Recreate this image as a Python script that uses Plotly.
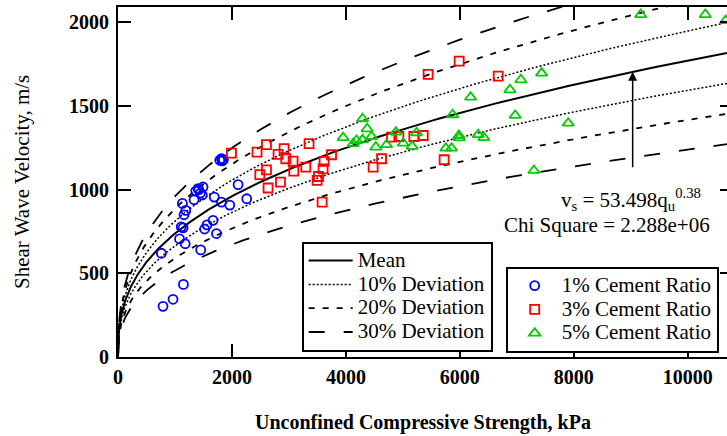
import numpy as np
import plotly.graph_objects as go

# Measured points: unconfined compressive strength qu (kPa) and shear wave velocity vs (m/s)
qu_1pct = [790, 966, 1148, 762, 1080, 1180, 1452, 1110, 1142, 1520, 1562, 1668, 1728,
           1159, 1189, 1131, 1335, 1365, 1405, 1447, 1493, 1480, 1420, 1690, 1816, 1962,
           2108, 2260, 1786, 1816, 1850, 1830]
vs_1pct = [303, 345, 434, 620, 706, 677, 640, 778, 772, 765, 790, 817, 738,
           850, 876, 918, 940, 992, 1006, 980, 1016, 968, 1000, 956, 926, 908,
           1030, 946, 1176, 1186, 1180, 1172]

qu_3pct = [1991, 2441, 2606, 2916, 2810, 2945, 3073, 3354, 2606, 2489, 2634, 2852, 3086,
           3297, 3495, 3519, 3600, 3618, 3748, 3583, 5989, 5444, 6674, 4801, 4930, 5193,
           5358, 4626, 4479, 5725]
vs_3pct = [1219, 1225, 1269, 1245, 1211, 1185, 1171, 1275, 1119, 1090, 1010, 1045, 1111,
           1135, 1056, 1079, 1125, 1169, 1209, 926, 1768, 1689, 1679, 1314, 1318, 1318,
           1324, 1185, 1135, 1179]

qu_5pct = [3952, 4127, 4187, 4292, 4373, 4450, 4292, 4526, 4714, 4877, 5006, 5164, 5241,
           5873, 5755, 5855, 5983, 5990, 6323, 6423, 6189, 6879, 7072, 7436, 6972, 7301,
           7903, 9175, 10309, 10667]
vs_5pct = [1311, 1275, 1294, 1424, 1364, 1318, 1298, 1255, 1269, 1344, 1278, 1259, 1340,
           1448, 1248, 1248, 1324, 1310, 1329, 1311, 1553, 1597, 1657, 1697, 1444, 1115,
           1398, 2047, 2047, 2011]

# Power-law fit vs = A * qu^B and the deviation bands drawn around it
fit_coef = 53.498
fit_exp = 0.38
chi_square = "2.288e+06"
deviation_levels = [10, 20, 30]
arrow_qu = 9034

x_ticks = [0, 2000, 4000, 6000, 8000, 10000]
x_tick_labels = ["0", "2000", "4000", "6000", "8000", "10000"]
y_ticks = [0, 500, 1000, 1500, 2000]
y_tick_labels = ["0", "500", "1000", "1500", "2000"]
x_max = 10690
y_max = 2092

FONT = "Liberation Serif"


def fit(q):
    return fit_coef * np.power(q, fit_exp)


def legend_label(text):
    # legend rows are sized from the smaller legend font; the label itself is larger
    return f'<span style="font-size:21px">{text}</span>'


q_curve = np.concatenate([[0.0], np.geomspace(0.5, x_max, 500)])
v_mean = fit(q_curve)

dash_styles = {10: "2px,2px", 20: "6px,8px", 30: "16px,19px"}
line_widths = {10: 1.5, 20: 1.8, 30: 1.8}

fig = go.Figure()

fig.add_trace(go.Scatter(
    x=q_curve, y=v_mean, mode="lines", name=legend_label("Mean"),
    line=dict(color="black", width=2), legend="legend", hoverinfo="skip"))

for lvl in deviation_levels:
    for sign in (1, -1):
        fig.add_trace(go.Scatter(
            x=q_curve, y=v_mean * (1 + sign * lvl / 100.0), mode="lines",
            name=legend_label(f"{lvl}% Deviation"), legendgroup=f"dev{lvl}",
            showlegend=(sign == 1), legend="legend",
            line=dict(color="black", width=line_widths[lvl], dash=dash_styles[lvl]),
            hoverinfo="skip"))

series = [
    ("1% Cement Ratio", qu_1pct, vs_1pct, "circle-open", "#0000FF", 9),
    ("3% Cement Ratio", qu_3pct, vs_3pct, "square-open", "#FF0000", 9),
    ("5% Cement Ratio", qu_5pct, vs_5pct, "triangle-up-open", "#00CC00", 10),
]
for name, xs, ys, sym, col, sz in series:
    fig.add_trace(go.Scatter(
        x=xs, y=ys, mode="markers", name=legend_label(name), legend="legend2",
        marker=dict(symbol=sym, size=sz, color=col, line=dict(color=col, width=1.8))))

# right-hand tick marks
fig.add_trace(go.Scatter(x=[None], y=[None], yaxis="y2", showlegend=False, hoverinfo="skip"))

legend_common = dict(
    font=dict(family=FONT, size=16, color="black"),
    bgcolor="white", bordercolor="black", borderwidth=2,
    xanchor="left", yanchor="top", tracegroupgap=0, itemwidth=44,
)

fig.update_layout(
    width=727, height=436,
    margin=dict(l=118, r=0, t=7, b=79),
    paper_bgcolor="white", plot_bgcolor="white",
    font=dict(family=FONT, color="black"),
    xaxis=dict(
        range=[0, x_max], tickvals=x_ticks, ticktext=x_tick_labels,
        ticks="inside", ticklen=13, tickwidth=2,
        tickcolor="black", showline=True, linewidth=2, linecolor="black",
        mirror="ticks", showgrid=False, zeroline=False,
        tickfont=dict(family=FONT, size=20, weight="bold", color="black"),
        ticklabelstandoff=1,
    ),
    yaxis=dict(
        range=[0, y_max], tickvals=y_ticks, ticktext=y_tick_labels,
        ticks="inside", ticklen=13, tickwidth=2,
        tickcolor="black", showline=True, linewidth=2, linecolor="black",
        showgrid=False, zeroline=False,
        tickfont=dict(family=FONT, size=20, weight="bold", color="black"),
        ticklabelstandoff=3,
    ),
    yaxis2=dict(
        range=[0, y_max], tickvals=y_ticks, overlaying="y", side="right",
        ticks="inside", ticklen=7, tickwidth=2, tickcolor="black",
        showticklabels=False, showline=False, showgrid=False, zeroline=False,
    ),
    legend=dict(x=0.3016, y=0.3294, **legend_common),
    legend2=dict(x=0.6366, y=0.258, **legend_common),
    showlegend=True,
)

annotations = [
    dict(text="Unconfined Compressive Strength, kPa", xref="paper", yref="paper",
         x=0.5, y=0, xanchor="center", yanchor="middle", yshift=-65, showarrow=False,
         font=dict(family=FONT, size=20, weight="bold", color="black")),
    dict(text="Shear Wave Velocity, m/s", xref="paper", yref="paper",
         x=0, y=0.5, xanchor="center", yanchor="middle", xshift=-96, textangle=-90,
         showarrow=False, font=dict(family=FONT, size=21, color="black")),
    dict(text="v<sub>s</sub> = 53.498q<sub>u</sub><sup>0.38</sup>", xref="x", yref="y",
         x=9004, y=943, xanchor="center", yanchor="middle", showarrow=False,
         font=dict(family=FONT, size=21, color="black")),
    dict(text=f"Chi Square = {chi_square}", xref="x", yref="y",
         x=8583, y=788, xanchor="center", yanchor="middle", showarrow=False,
         font=dict(family=FONT, size=21, color="black")),
    dict(text="", xref="x", yref="y", x=arrow_qu, y=float(fit(arrow_qu)),
         axref="pixel", ayref="pixel", ax=0, ay=97, showarrow=True,
         arrowhead=2, arrowsize=1.2, arrowwidth=1.5, arrowcolor="black", standoff=0),
]
fig.update_layout(annotations=annotations)

fig.write_html("out.html")
